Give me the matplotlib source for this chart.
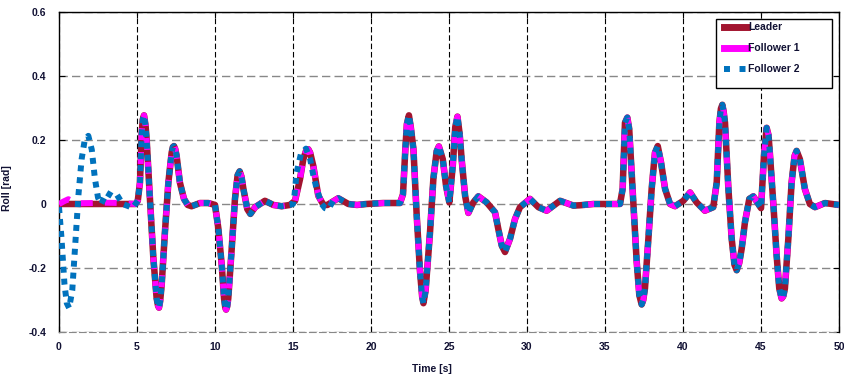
import numpy as np
import matplotlib
matplotlib.use("Agg")
import matplotlib.pyplot as plt
from matplotlib.lines import Line2D
from matplotlib.patches import Rectangle

# leader roll angle (time [s], roll [rad])
lead_t = [0.0, 1.0, 2.0, 3.0, 4.0, 4.9, 5.05, 5.19, 5.3, 5.37, 5.45, 5.55, 5.62, 5.83, 6.05, 6.26, 6.35, 6.41,
          6.48, 6.58, 6.79, 7.01, 7.22, 7.3, 7.37, 7.45, 7.54, 7.75, 8.01, 8.25, 8.5, 9.04, 9.57, 10.0, 10.21,
          10.43, 10.58, 10.66, 10.71, 10.78, 10.85, 11.07, 11.28, 11.45, 11.58, 11.7, 11.82, 12.07, 12.27, 12.57,
          13.2, 13.74, 14.27, 14.8, 15.13, 15.45, 15.66, 15.85, 15.98, 16.1, 16.3, 16.62, 16.95, 17.2, 17.9,
          18.55, 19.1, 19.7, 20.78, 21.86, 22.05, 22.2, 22.3, 22.43, 22.55, 22.72, 22.93, 23.14,
          23.28, 23.36, 23.5, 23.78, 24.0, 24.21, 24.35, 24.6, 24.81, 25.02, 25.24, 25.4, 25.54,
          25.68, 25.81, 26.03, 26.24, 26.56, 26.88, 27.41, 27.95, 28.16, 28.38, 28.59, 28.91,
          29.23, 29.55, 30.19, 30.73, 31.26, 32.12, 32.97, 33.4, 34.25, 35.96, 36.13, 36.28,
          36.43, 36.55, 36.65, 36.82, 37.03, 37.2, 37.35, 37.45, 37.56, 37.78, 37.99, 38.2, 38.38, 38.59,
          38.85, 39.17, 39.49, 40.02, 40.45, 40.87, 41.4, 41.94, 42.16, 42.33, 42.43, 42.52, 42.6, 42.69,
          42.91, 43.12, 43.3, 43.44, 43.6, 43.76, 43.97, 44.25, 44.51, 45.0, 45.19, 45.36, 45.48, 45.58, 45.79,
          46.0, 46.17, 46.32, 46.43, 46.53, 46.75, 46.96, 47.15, 47.28, 47.49, 47.81, 48.13, 48.46, 49.1, 50.0]
lead_v = [0.0, 0.0, 0.0, 0.0, 0.0, 0.0, 0.01, 0.067, 0.22, 0.264, 0.277, 0.244, 0.2, 0.016, -0.17, -0.295, -0.318, -0.324,
          -0.305, -0.254, -0.088, 0.067, 0.16, 0.178, 0.181, 0.172, 0.15, 0.067, 0.016, -0.003, -0.007, 0.003, 0.003, -0.003, -0.075,
          -0.19, -0.295, -0.324, -0.33, -0.32, -0.295, -0.14, 0.016, 0.09, 0.102, 0.085, 0.047, -0.016, -0.031, -0.01,
          0.01, -0.003, -0.007, -0.003, 0.01, 0.078, 0.14, 0.168, 0.171, 0.16, 0.119, 0.026, -0.003, -0.003, 0.018,
          0.0, -0.003, 0.0, 0.003, 0.003, 0.03, 0.17, 0.25, 0.277, 0.24, 0.171, -0.036, -0.21,
          -0.29, -0.31, -0.27, -0.09, 0.08, 0.165, 0.18, 0.14, 0.057, 0.005, 0.119, 0.24, 0.273,
          0.22, 0.14, 0.026, -0.028, 0.005, 0.024, 0.005, -0.026, -0.078, -0.13, -0.15, -0.109,
          -0.047, -0.01, 0.016, -0.01, -0.021, 0.01, -0.005, -0.004, 0.0, 0.0, 0.047, 0.254,
          0.27, 0.235, 0.15, 0.0, -0.18, -0.285, -0.314, -0.3, -0.264, -0.109, 0.047, 0.16, 0.181, 0.13,
          0.047, 0.0, -0.007, 0.01, 0.036, 0.005, -0.021, -0.01, 0.067, 0.254, 0.298, 0.31, 0.29, 0.254,
          0.047, -0.109, -0.19, -0.207, -0.185, -0.14, -0.057, 0.016, 0.024, -0.013, 0.15, 0.238, 0.215, 0.15, 0.0,
          -0.16, -0.264, -0.295, -0.288, -0.264, -0.109, 0.067, 0.15, 0.166, 0.14, 0.047, 0.0, -0.01, 0.003, -0.003]

# follower 1 differs from the leader only during the first seconds
f1_start_t = [0.0, 0.3, 0.6, 0.9, 1.2, 2.0, 3.0, 4.0, 4.9]
f1_start_v = [0.0, 0.008, 0.015, 0.008, 0.002, 0.003, 0.004, 0.003, 0.0]

# follower 2: initial transient and a small lead around t = 15..18 s
f2_start_t = [0.0, 0.15, 0.35, 0.5, 0.65, 0.85, 1.05, 1.25, 1.45, 1.65, 1.88, 2.1, 2.3, 2.5, 2.7,
              3.06, 3.4, 3.7, 4.08, 4.72, 4.9]
f2_start_v = [-0.01, -0.1, -0.25, -0.31, -0.325, -0.27, -0.12, 0.03, 0.14, 0.2, 0.213, 0.17, 0.08,
              0.02, 0.0, 0.035, 0.025, 0.03, 0.0, -0.012, 0.0]
f2_mid_t = [15.0, 15.1, 15.24, 15.5, 15.83, 16.1, 16.3, 16.52, 16.84, 17.05, 17.26, 17.58, 17.9]
f2_mid_v = [0.0, 0.03, 0.10, 0.155, 0.173, 0.14, 0.09, 0.047, 0.0, -0.013, -0.016, 0.01, 0.018]

lead_t = np.array(lead_t)
lead_v = np.array(lead_v)

# build follower series: own segments + leader elsewhere
m1 = lead_t > 4.95
f1_t = np.concatenate([f1_start_t, lead_t[m1]])
f1_v = np.concatenate([f1_start_v, lead_v[m1]])

ma = (lead_t > 4.95) & (lead_t < 14.95)
mb = lead_t > 17.95
f2_t = np.concatenate([f2_start_t, lead_t[ma], f2_mid_t, lead_t[mb]])
f2_v = np.concatenate([f2_start_v, lead_v[ma], f2_mid_v, lead_v[mb]])

c_lead = '#A2142F'
c_f1 = '#FF00FF'
c_f2 = '#0072BD'
txt_col = '#111133'
lw = 4.3
fs = 7.5

fig = plt.figure(figsize=(8.44, 3.78), dpi=100)
ax = fig.add_axes([0.0699, 0.1217, 0.9242, 0.8466])

ax.plot(lead_t, lead_v, color=c_lead, lw=lw + 0.4, solid_capstyle='butt', solid_joinstyle='round', zorder=3)
ax.plot(f1_t, f1_v, color=c_f1, lw=lw, linestyle=(0, (2, 2)), dash_capstyle='butt', zorder=3.5)
ax.plot(f2_t, f2_v, color=c_f2, lw=lw, linestyle=(0, (1, 1)), dash_capstyle='butt', zorder=4)

ax.set_xlim(0, 50)
ax.set_ylim(-0.4, 0.6)
ax.set_xticks(np.arange(0, 51, 5))
ax.set_yticks([-0.4, -0.2, 0, 0.2, 0.4, 0.6])
ax.set_yticklabels(['-0.4', '-0.2', '0', '0.2', '0.4', '0.6'])

ax.xaxis.grid(True, color='black', linestyle=(0, (5, 2.5)), linewidth=0.8)
ax.yaxis.grid(True, color='#888888', linestyle=(0, (6, 3)), linewidth=1.0)
ax.set_axisbelow(True)

for s in ['top', 'left', 'right']:
    ax.spines[s].set_linewidth(1.0)
ax.spines['bottom'].set_color('#888888')
ax.spines['bottom'].set_linestyle((0, (6, 3)))

ax.tick_params(direction='in', length=4, width=0.8, top=True, right=True,
               labelsize=fs, labelcolor=txt_col)
ax.tick_params(axis='x', pad=7)
ax.tick_params(axis='y', pad=9)
for lab in ax.get_xticklabels() + ax.get_yticklabels():
    lab.set_fontfamily('Liberation Sans')
    lab.set_fontweight('bold')

ax.set_xlabel('Time [s]', fontsize=fs, fontweight='bold', family='Liberation Sans', color=txt_col)
ax.xaxis.set_label_coords(0.478, -0.1)
ax.set_ylabel('Roll [rad]', fontsize=fs, fontweight='bold', family='Liberation Sans', color=txt_col)
ax.yaxis.set_label_coords(-0.06, 0.45)

# legend box
ax.add_patch(Rectangle((0.842, 0.7625), 0.149, 0.2155, transform=ax.transAxes,
                       facecolor='white', edgecolor='black', lw=1.0, zorder=5))
handles = [Line2D([], [], color=c_lead, lw=5),
           Line2D([], [], color=c_f1, lw=5),
           Line2D([], [], color=c_f2, lw=lw, linestyle=(0, (1, 1.6)), dash_capstyle='butt')]
leg = ax.legend(handles, ['Leader', 'Follower 1', 'Follower 2'], loc='upper left',
                bbox_to_anchor=(0.8436, 0.99), frameon=False, handlelength=2.2,
                handletextpad=0.1, labelspacing=1.05, borderpad=0.2,
                prop={'family': 'Liberation Sans', 'weight': 'bold', 'size': fs})
for t in leg.get_texts():
    t.set_color(txt_col)
leg.set_zorder(6)

fig.savefig('out.png', dpi=100)
